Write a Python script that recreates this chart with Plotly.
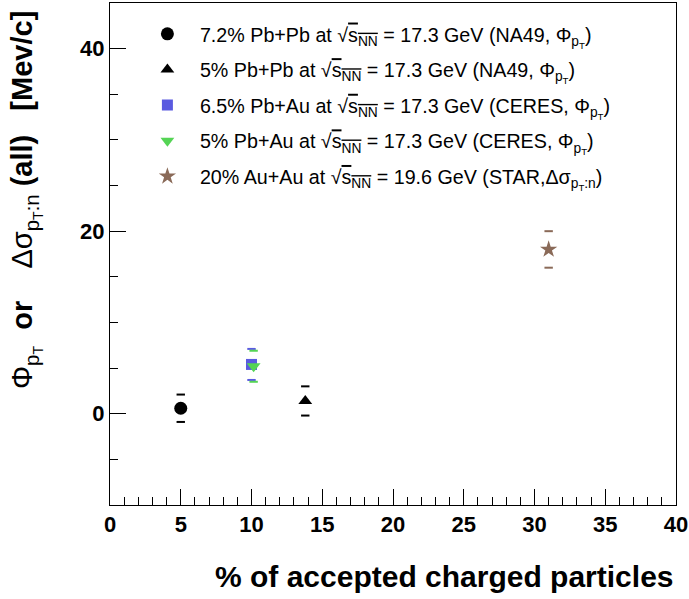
import plotly.graph_objects as go

# ---- data ----
sqrt_s = '√<span style="text-decoration:overline">s<sub>NN</sub></span>'
series_names = [
    f'7.2% Pb+Pb at {sqrt_s} = 17.3 GeV (NA49, Φ<sub>p<sub>T</sub></sub>)',
    f'5% Pb+Pb at {sqrt_s} = 17.3 GeV (NA49, Φ<sub>p<sub>T</sub></sub>)',
    f'6.5% Pb+Au at {sqrt_s} = 17.3 GeV (CERES, Φ<sub>p<sub>T</sub></sub>)',
    f'5% Pb+Au at {sqrt_s} = 17.3 GeV (CERES, Φ<sub>p<sub>T</sub></sub>)',
    f'20% Au+Au at {sqrt_s} = 19.6 GeV (STAR,Δσ<sub>p<sub>T</sub>:n</sub>)',
]
x_vals = [5.0, 13.8, 10.0, 10.15, 31.0]
y_vals = [0.6, 1.4, 5.4, 5.2, 18.0]
y_errs = [1.5, 1.6, 1.7, 1.7, 2.0]
symbols = ["circle", "triangle-up", "square", "triangle-down", "star"]
colors = ["#000000", "#000000", "#5a5ae0", "#55d455", "#8a6a58"]
sizes = [13, 12, 11, 12, 13]

x_ticks = [0, 5, 10, 15, 20, 25, 30, 35, 40]
y_ticks = [0, 20, 40]

fig = go.Figure()
for i in range(len(x_vals)):
    fig.add_trace(go.Scatter(
        x=[x_vals[i]], y=[y_vals[i]], mode="markers", name=series_names[i],
        legendgroup=f"g{i}",
        marker=dict(symbol=symbols[i], color=colors[i], size=sizes[i], line=dict(width=0)),
    ))
    # error caps only (no vertical bar, as in the reference)
    fig.add_trace(go.Scatter(
        x=[x_vals[i], x_vals[i]],
        y=[y_vals[i] + y_errs[i], y_vals[i] - y_errs[i]],
        mode="markers", showlegend=False, hoverinfo="skip",
        marker=dict(symbol="line-ew", size=6, line=dict(color=colors[i], width=2)),
    ))

font_family = "Liberation Sans, Arial, sans-serif"
fig.update_layout(
    width=689, height=599,
    margin=dict(l=110, r=13, t=3, b=94, autoexpand=False),
    plot_bgcolor="white", paper_bgcolor="white",
    font=dict(family=font_family, color="black"),
    showlegend=True,
    legend=dict(
        x=0.044, y=0.977, xanchor="left", yanchor="top",
        bgcolor="rgba(0,0,0,0)", borderwidth=0,
        font=dict(size=19.7, family=font_family),
        traceorder="grouped", tracegroupgap=7, itemsizing="trace", itemwidth=55,
    ),
    xaxis=dict(
        range=[0, 40], tickvals=x_ticks, ticktext=[str(t) for t in x_ticks],
        ticks="inside", ticklen=16, tickwidth=1, tickcolor="black",
        minor=dict(dtick=1, ticks="inside", ticklen=8, tickcolor="black"),
        showline=True, linecolor="black", linewidth=1, mirror=True,
        showgrid=False, zeroline=False, automargin=False,
        tickfont=dict(size=22, family=font_family, weight="bold"),
    ),
    yaxis=dict(
        range=[-10, 45], tickvals=y_ticks, ticktext=[str(t) for t in y_ticks],
        ticks="inside", ticklen=16, tickwidth=1, tickcolor="black",
        minor=dict(dtick=5, ticks="inside", ticklen=8, tickcolor="black"),
        showline=True, linecolor="black", linewidth=1, mirror=True,
        showgrid=False, zeroline=False, automargin=False,
        tickfont=dict(size=22, family=font_family, weight="bold"),
    ),
)

fig.add_annotation(
    text="% of accepted charged particles", xref="paper", yref="paper",
    x=1.0, y=-0.143, xanchor="right", yanchor="middle", showarrow=False,
    font=dict(size=30, family=font_family, weight="bold"),
)
nb = "\u00a0"
fig.add_annotation(
    text=f"Φ<sub>p<sub>T</sub></sub>{nb} <b>or</b> {nb*3}Δσ<sub>p<sub>T</sub>:n</sub> <b>(all)</b> {nb*2}<b>[Mev/c]</b>",
    xref="paper", yref="paper", x=-0.148, y=0.608, xanchor="center", yanchor="middle",
    textangle=-90, showarrow=False,
    font=dict(size=29, family=font_family),
)

fig.write_html("out.html", post_script="document.body.style.margin='0';",
               config={"displayModeBar": False})
